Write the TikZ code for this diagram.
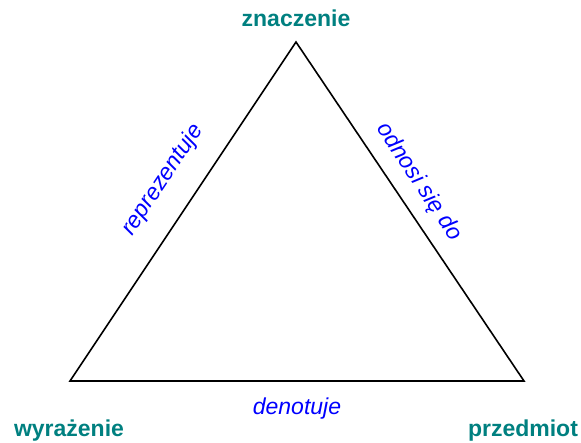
\documentclass[tikz,border=0pt]{standalone}
\usepackage{fontspec}
\setmainfont{Liberation Sans}
\definecolor{vteal}{RGB}{0,128,128}
\definecolor{eblue}{RGB}{0,0,255}
\begin{document}
\begin{tikzpicture}[x=1pt,y=1pt,
  vlabel/.style={font=\fontsize{23}{26}\selectfont\bfseries, text=vteal, inner sep=0pt},
  elabel/.style={font=\fontsize{23}{26}\selectfont\itshape, text=eblue, inner sep=0pt},
  side/.style={line width=1.6pt, line join=miter}]
\useasboundingbox (0,0) rectangle (581,442);
\coordinate (T) at (296,400);
\coordinate (L) at (70,61);
\coordinate (R) at (524,61);
\draw[side] (T) -- (L) -- (R) -- cycle;
\node[vlabel, anchor=base] (zn) at (296,415) {znaczenie};
\node[vlabel, anchor=base] (wy) at (69,6) {wyrażenie};
\node[vlabel, anchor=base] (pr) at (523,6) {przedmiot};
\node[elabel, anchor=base] (de) at (297,28) {denotuje};
\node[elabel, rotate=56.3] (re) at (163,262) {reprezentuje};
\node[elabel, rotate=-56.3] (od) at (419,260) {odnosi się do};
\end{tikzpicture}
\end{document}
